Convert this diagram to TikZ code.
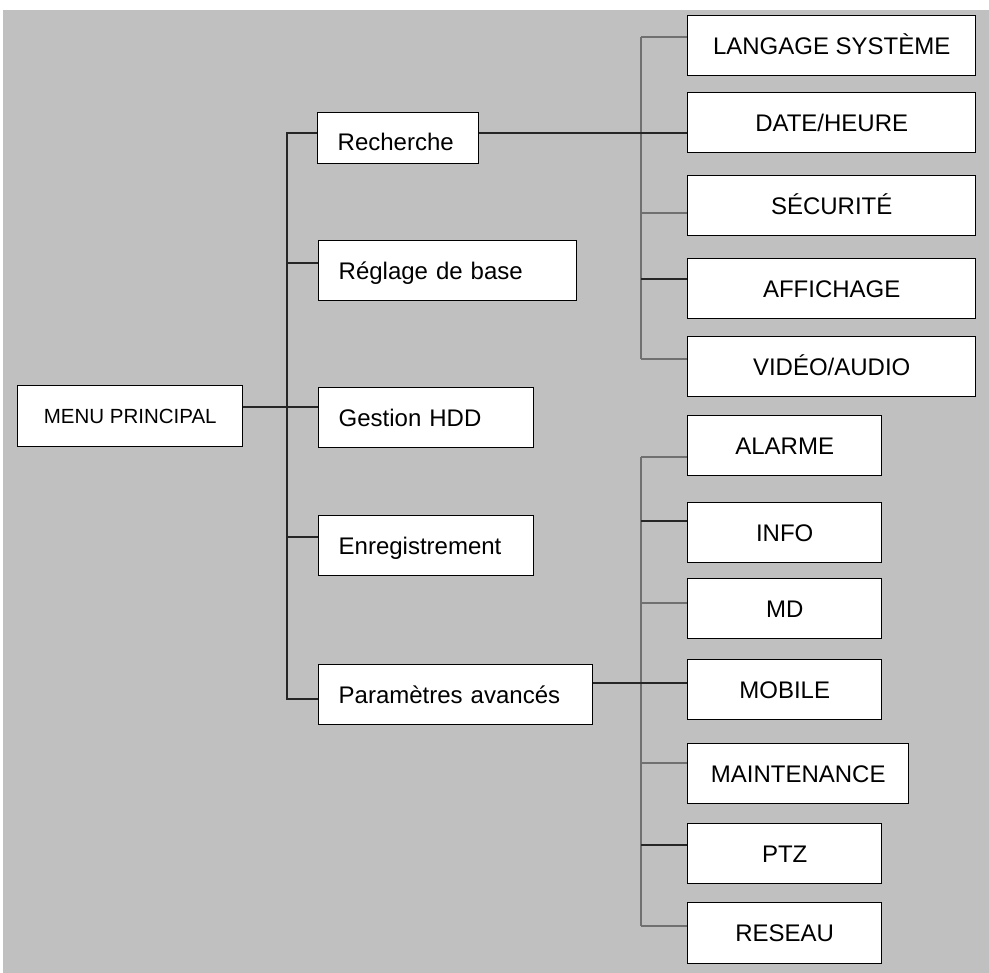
\documentclass[tikz,border=0pt]{standalone}
\usepackage{fontspec}
\setmainfont{Liberation Sans}
\definecolor{panelgray}{RGB}{192,192,192}
\definecolor{linkgray}{RGB}{112,112,112}

\begin{document}
\begin{tikzpicture}[x=1pt, y=-1pt,
        box/.style={draw, line width=1.4pt, fill=white, inner sep=0pt, anchor=north west,
            minimum height=60pt, text height=17pt, text depth=0pt, font=\fontsize{24}{28}\selectfont},
        midbox/.style={box, inner xsep=20pt, text width=#1, align=left},
        rightbox/.style={box, minimum width=#1},
        link/.style={line width=1.4pt, black!85},
        trunk/.style={line width=1.4pt, linkgray}]
        \useasboundingbox (0,0) rectangle (989,973);
        \fill[white] (0,0) rectangle (989,973);
        \fill[panelgray] (3,10) rectangle (989,973);

        \node[box, minimum width=225pt, minimum height=61pt, text height=14.5pt,
            font=\fontsize{20.5}{24}\selectfont] (menu) at (17,385) {MENU PRINCIPAL};

        \node[midbox=121pt, minimum height=51pt, text height=25pt] (rech) at (317,112) {Recherche};
        \node[midbox=218pt] (regl) at (318,240) {Réglage de base};
        \node[midbox=175pt] (gest) at (318,387) {Gestion HDD};
        \node[midbox=175pt] (enre) at (318,515) {Enregistrement};
        \node[midbox=234pt] (para) at (318,664) {Paramètres avancés};

        \node[rightbox=288pt] (lang) at (687,15) {LANGAGE SYSTÈME};
        \node[rightbox=288pt] (date) at (687,92) {DATE/HEURE};
        \node[rightbox=288pt] (secu) at (687,175) {SÉCURITÉ};
        \node[rightbox=288pt] (affi) at (687,258) {AFFICHAGE};
        \node[rightbox=288pt] (vide) at (687,336) {VIDÉO/AUDIO};

        \node[rightbox=194pt] (alar) at (687,415) {ALARME};
        \node[rightbox=194pt] (info) at (687,502) {INFO};
        \node[rightbox=194pt] (md) at (687,578) {MD};
        \node[rightbox=194pt] (mobi) at (687,659) {MOBILE};
        \node[rightbox=221pt] (mait) at (687,743) {MAINTENANCE};
        \node[rightbox=194pt] (ptz) at (687,823) {PTZ};
        \node[rightbox=194pt, minimum height=61pt] (rese) at (687,902) {RESEAU};

        \coordinate (k1) at (287,133);
        \coordinate (k2) at (287,263);
        \coordinate (k3) at (287,407);
        \coordinate (k4) at (287,537);
        \coordinate (k5) at (287,699);
        \coordinate (s1) at (641,37);
        \coordinate (s2) at (641,133);
        \coordinate (s3) at (641,213);
        \coordinate (s4) at (641,279);
        \coordinate (s5) at (641,359);
        \coordinate (p1) at (641,457);
        \coordinate (p2) at (641,521);
        \coordinate (p3) at (641,603);
        \coordinate (p4) at (641,683);
        \coordinate (p5) at (641,763);
        \coordinate (p6) at (641,845);
        \coordinate (p7) at (641,926);

        \draw[link] (k1 -| rech.west) -- (k1) -- (k5) -- (k5 -| para.west);
        \draw[link] (k3 -| menu.east) -- (k3 -| gest.west);
        \draw[link] (k2) -- (k2 -| regl.west);
        \draw[link] (k4) -- (k4 -| enre.west);

        \draw[trunk] (s1) -- (s5);
        \draw[link] (s2 -| rech.east) -- (s2 -| date.west);
        \foreach \c/\n in {s1/lang, s3/secu, s5/vide}
            \draw[trunk] (\c) -- (\c -| \n.west);
        \draw[link] (s4) -- (s4 -| affi.west);

        \draw[trunk] (p1) -- (p7);
        \draw[link] (p4 -| para.east) -- (p4 -| mobi.west);
        \foreach \c/\n in {p1/alar, p3/md, p5/mait, p7/rese}
            \draw[trunk] (\c) -- (\c -| \n.west);
        \foreach \c/\n in {p2/info, p6/ptz}
            \draw[link] (\c) -- (\c -| \n.west);
    \end{tikzpicture}
\end{document}
